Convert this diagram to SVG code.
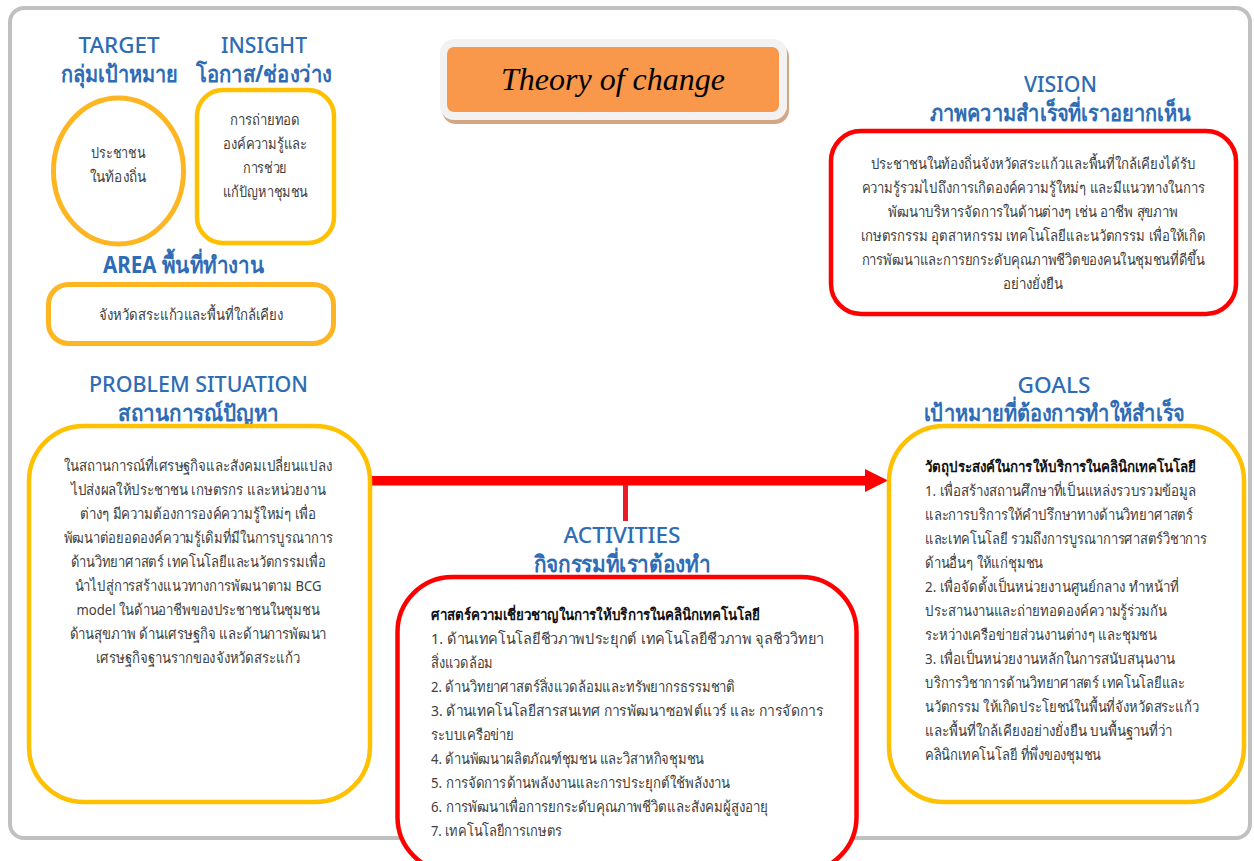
<svg xmlns="http://www.w3.org/2000/svg" width="1254" height="861" viewBox="0 0 1254 861">
<style>
text{font-family:"Noto Sans","Liberation Sans",sans-serif}
.h{font-size:22px;font-weight:500;fill:#2e6cb5;text-anchor:middle}
.ht{font-weight:700;font-size:23px}
.t{font-size:15px;fill:#404040}
.c{text-anchor:middle}
.b{font-weight:700;fill:#111}
.y{fill:#fff;stroke:#ffc000;stroke-width:4.5}
.o{fill:#fff;stroke:#fdb522;stroke-width:5}
.r{fill:#fff;stroke:#ff0000;stroke-width:4.5}
</style>
<rect id="frame" x="10" y="8" width="1240" height="830" rx="14" fill="#fff" stroke="#c0c0c0" stroke-width="4"/>
<g id="connectors">
<rect x="372" y="476" width="494" height="9.5" fill="#ff0000"/>
<polygon points="865,469 888,480.5 865,492" fill="#ff0000"/>
<rect x="623" y="485" width="5" height="36" fill="#ed1c24"/>
</g>
<g id="target">
<text class="h" x="119" y="53" textLength="81" lengthAdjust="spacingAndGlyphs">TARGET</text>
<text class="h ht" x="119" y="82" textLength="117" lengthAdjust="spacingAndGlyphs">กลุ่มเป้าหมาย</text>
<ellipse class="o" cx="118.500" cy="171" rx="65" ry="73"/>
<text class="t c" x="118" y="158" textLength="54" lengthAdjust="spacingAndGlyphs">ประชาชน</text>
<text class="t c" x="118" y="182" textLength="56" lengthAdjust="spacingAndGlyphs">ในท้องถิ่น</text>
</g>
<g id="insight">
<text class="h" x="264" y="53" textLength="86" lengthAdjust="spacingAndGlyphs">INSIGHT</text>
<text class="h ht" x="264" y="82" textLength="136" lengthAdjust="spacingAndGlyphs">โอกาส/ช่องว่าง</text>
<rect class="y" x="197" y="90" width="137" height="153" rx="26"/>
<text class="t c" x="265" y="125" textLength="70" lengthAdjust="spacingAndGlyphs">การถ่ายทอด</text>
<text class="t c" x="265" y="149" textLength="84" lengthAdjust="spacingAndGlyphs">องค์ความรู้และ</text>
<text class="t c" x="265" y="173" textLength="44" lengthAdjust="spacingAndGlyphs">การช่วย</text>
<text class="t c" x="265" y="197" textLength="85" lengthAdjust="spacingAndGlyphs">แก้ปัญหาชุมชน</text>
</g>
<g id="area">
<text class="h ht" x="183.500" y="273" textLength="161" lengthAdjust="spacingAndGlyphs">AREA พื้นที่ทำงาน</text>
<rect class="o" x="48.500" y="284.500" width="285" height="59" rx="20"/>
<text class="t c" x="191" y="320" textLength="184" lengthAdjust="spacingAndGlyphs">จังหวัดสระแก้วและพื้นที่ใกล้เคียง</text>
</g>
<g id="title">
<rect x="442" y="43" width="347" height="81" rx="14" fill="#d4a582"/>
<rect x="440" y="39" width="347" height="81" rx="14" fill="#f2f2f2"/>
<rect x="447" y="47" width="332" height="65" rx="7" fill="#f9974a"/>
<text x="613" y="90" text-anchor="middle" style="font-family:'Liberation Serif',serif;font-style:italic;font-size:32px;fill:#000">Theory of change</text>
</g>
<g id="vision">
<text class="h" x="1060.500" y="92" textLength="73" lengthAdjust="spacingAndGlyphs">VISION</text>
<text class="h ht" x="1060.500" y="121" textLength="261" lengthAdjust="spacingAndGlyphs">ภาพความสำเร็จที่เราอยากเห็น</text>
<rect class="r" x="831" y="131" width="405" height="183" rx="30"/>
<text class="t c" x="1033" y="169" textLength="325" lengthAdjust="spacingAndGlyphs">ประชาชนในท้องถิ่นจังหวัดสระแก้วและพื้นที่ใกล้เคียงได้รับ</text>
<text class="t c" x="1033" y="193" textLength="343" lengthAdjust="spacingAndGlyphs">ความรู้รวมไปถึงการเกิดองค์ความรู้ใหม่ๆ และมีแนวทางในการ</text>
<text class="t c" x="1033" y="217" textLength="290" lengthAdjust="spacingAndGlyphs">พัฒนาบริหารจัดการในด้านต่างๆ เช่น อาชีพ สุขภาพ</text>
<text class="t c" x="1033" y="241" textLength="345" lengthAdjust="spacingAndGlyphs">เกษตรกรรม อุตสาหกรรม เทคโนโลยีและนวัตกรรม เพื่อให้เกิด</text>
<text class="t c" x="1033" y="265" textLength="343" lengthAdjust="spacingAndGlyphs">การพัฒนาและการยกระดับคุณภาพชีวิตของคนในชุมชนที่ดีขึ้น</text>
<text class="t c" x="1033" y="289" textLength="60" lengthAdjust="spacingAndGlyphs">อย่างยั่งยืน</text>
</g>
<g id="problem">
<text class="h" x="198.500" y="392" textLength="219" lengthAdjust="spacingAndGlyphs">PROBLEM SITUATION</text>
<text class="h ht" x="198.500" y="421" textLength="161" lengthAdjust="spacingAndGlyphs">สถานการณ์ปัญหา</text>
<rect class="y" x="29" y="426" width="341" height="376" rx="55"/>
<text class="t c" x="198" y="471" textLength="268" lengthAdjust="spacingAndGlyphs">ในสถานการณ์ที่เศรษฐกิจและสังคมเปลี่ยนแปลง</text>
<text class="t c" x="198" y="495" textLength="255" lengthAdjust="spacingAndGlyphs">ไปส่งผลให้ประชาชน เกษตรกร และหน่วยงาน</text>
<text class="t c" x="198" y="519" textLength="236" lengthAdjust="spacingAndGlyphs">ต่างๆ มีความต้องการองค์ความรู้ใหม่ๆ เพื่อ</text>
<text class="t c" x="198" y="543" textLength="269" lengthAdjust="spacingAndGlyphs">พัฒนาต่อยอดองค์ความรู้เดิมที่มีในการบูรณาการ</text>
<text class="t c" x="198" y="567" textLength="255" lengthAdjust="spacingAndGlyphs">ด้านวิทยาศาสตร์ เทคโนโลยีและนวัตกรรมเพื่อ</text>
<text class="t c" x="198" y="591" textLength="247" lengthAdjust="spacingAndGlyphs">นำไปสู่การสร้างแนวทางการพัฒนาตาม BCG</text>
<text class="t c" x="198" y="615" textLength="243" lengthAdjust="spacingAndGlyphs">model ในด้านอาชีพของประชาชนในชุมชน</text>
<text class="t c" x="198" y="639" textLength="257" lengthAdjust="spacingAndGlyphs">ด้านสุขภาพ ด้านเศรษฐกิจ และด้านการพัฒนา</text>
<text class="t c" x="198" y="663" textLength="204" lengthAdjust="spacingAndGlyphs">เศรษฐกิจฐานรากของจังหวัดสระแก้ว</text>
</g>
<g id="activities">
<text class="h" x="622" y="543" textLength="117" lengthAdjust="spacingAndGlyphs">ACTIVITIES</text>
<text class="h ht" x="622" y="572" textLength="177" lengthAdjust="spacingAndGlyphs">กิจกรรมที่เราต้องทำ</text>
<rect class="r" x="397.500" y="577" width="459" height="295" rx="55"/>
<text class="t b" x="431" y="620" textLength="329" lengthAdjust="spacingAndGlyphs">ศาสตร์ความเชี่ยวชาญในการให้บริการในคลินิกเทคโนโลยี</text>
<text class="t" x="431" y="644" textLength="393" lengthAdjust="spacingAndGlyphs">1. ด้านเทคโนโลยีชีวภาพประยุกต์ เทคโนโลยีชีวภาพ จุลชีววิทยา</text>
<text class="t" x="431" y="668" textLength="62" lengthAdjust="spacingAndGlyphs">สิ่งแวดล้อม</text>
<text class="t" x="431" y="692" textLength="304" lengthAdjust="spacingAndGlyphs">2. ด้านวิทยาศาสตร์สิ่งแวดล้อมและทรัพยากรธรรมชาติ</text>
<text class="t" x="431" y="716" textLength="392" lengthAdjust="spacingAndGlyphs">3. ด้านเทคโนโลยีสารสนเทศ การพัฒนาซอฟต์แวร์ และ การจัดการ</text>
<text class="t" x="431" y="740" textLength="83" lengthAdjust="spacingAndGlyphs">ระบบเครือข่าย</text>
<text class="t" x="431" y="764" textLength="273" lengthAdjust="spacingAndGlyphs">4. ด้านพัฒนาผลิตภัณฑ์ชุมชน และวิสาหกิจชุมชน</text>
<text class="t" x="431" y="788" textLength="299" lengthAdjust="spacingAndGlyphs">5. การจัดการด้านพลังงานและการประยุกต์ใช้พลังงาน</text>
<text class="t" x="431" y="812" textLength="337" lengthAdjust="spacingAndGlyphs">6. การพัฒนาเพื่อการยกระดับคุณภาพชีวิตและสังคมผู้สูงอายุ</text>
<text class="t" x="431" y="836" textLength="131" lengthAdjust="spacingAndGlyphs">7. เทคโนโลยีการเกษตร</text>
</g>
<g id="goals">
<text class="h" x="1054" y="393" textLength="73" lengthAdjust="spacingAndGlyphs">GOALS</text>
<text class="h ht" x="1054" y="421" textLength="261" lengthAdjust="spacingAndGlyphs">เป้าหมายที่ต้องการทำให้สำเร็จ</text>
<rect class="y" x="889" y="426" width="355" height="376" rx="55"/>
<text class="t b" x="925" y="472" textLength="271" lengthAdjust="spacingAndGlyphs">วัตถุประสงค์ในการให้บริการในคลินิกเทคโนโลยี</text>
<text class="t" x="925" y="496" textLength="271" lengthAdjust="spacingAndGlyphs">1. เพื่อสร้างสถานศึกษาที่เป็นแหล่งรวบรวมข้อมูล</text>
<text class="t" x="925" y="520" textLength="268" lengthAdjust="spacingAndGlyphs">และการบริการให้คำปรึกษาทางด้านวิทยาศาสตร์</text>
<text class="t" x="925" y="544" textLength="282" lengthAdjust="spacingAndGlyphs">และเทคโนโลยี รวมถึงการบูรณาการศาสตร์วิชาการ</text>
<text class="t" x="925" y="568" textLength="118" lengthAdjust="spacingAndGlyphs">ด้านอื่นๆ ให้แก่ชุมชน</text>
<text class="t" x="925" y="592" textLength="254" lengthAdjust="spacingAndGlyphs">2. เพื่อจัดตั้งเป็นหน่วยงานศูนย์กลาง ทำหน้าที่</text>
<text class="t" x="925" y="616" textLength="242" lengthAdjust="spacingAndGlyphs">ประสานงานและถ่ายทอดองค์ความรู้ร่วมกัน</text>
<text class="t" x="925" y="640" textLength="232" lengthAdjust="spacingAndGlyphs">ระหว่างเครือข่ายส่วนงานต่างๆ และชุมชน</text>
<text class="t" x="925" y="664" textLength="250" lengthAdjust="spacingAndGlyphs">3. เพื่อเป็นหน่วยงานหลักในการสนับสนุนงาน</text>
<text class="t" x="925" y="688" textLength="260" lengthAdjust="spacingAndGlyphs">บริการวิชาการด้านวิทยาศาสตร์ เทคโนโลยีและ</text>
<text class="t" x="925" y="712" textLength="274" lengthAdjust="spacingAndGlyphs">นวัตกรรม ให้เกิดประโยชน์ในพื้นที่จังหวัดสระแก้ว</text>
<text class="t" x="925" y="736" textLength="247" lengthAdjust="spacingAndGlyphs">และพื้นที่ใกล้เคียงอย่างยั่งยืน บนพื้นฐานที่ว่า</text>
<text class="t" x="925" y="760" textLength="176" lengthAdjust="spacingAndGlyphs">คลินิกเทคโนโลยี ที่พึ่งของชุมชน</text>
</g>
</svg>
